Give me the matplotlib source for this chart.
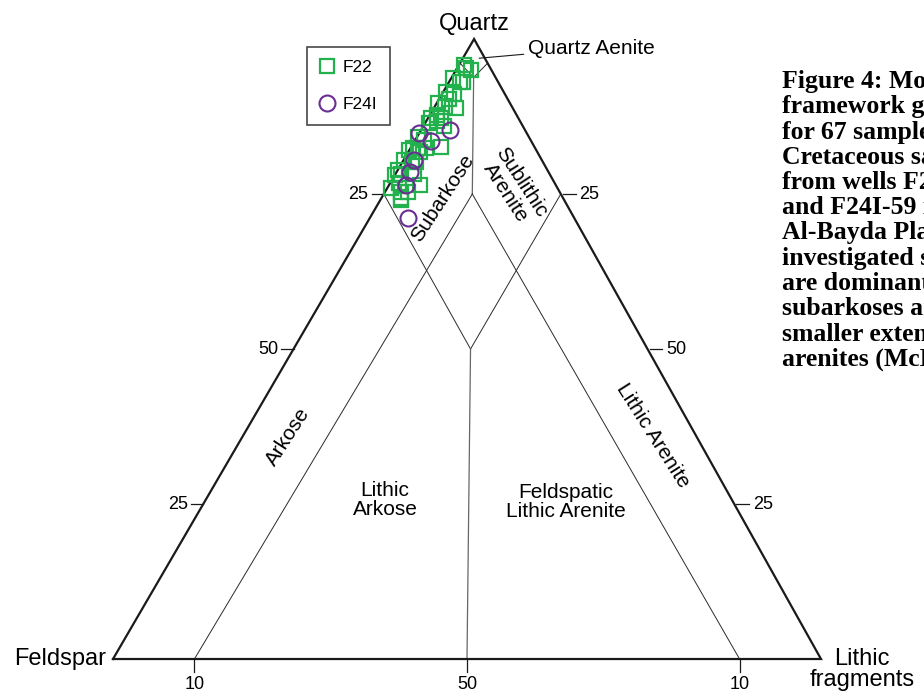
import matplotlib
matplotlib.use("Agg")
import matplotlib.pyplot as plt
import numpy as np

plt.rcParams['font.family'] = ['Liberation Sans', 'DejaVu Sans']

# framework composition in %: quartz (Q) and lithic fragments (L),
# feldspar is the remainder
f22_q = [95.8, 95.3, 95.0, 93.7, 93.1, 93.0, 91.5, 91.2, 90.4, 89.6, 89.1, 88.8,
         87.7, 87.2, 87.2, 86.7, 86.5, 85.9, 84.2, 83.7, 82.6, 82.4, 82.4, 82.4,
         82.1, 81.8, 80.5, 80.2, 80.2, 78.9, 78.3, 78.3, 78.1, 76.7, 76.5, 75.9,
         75.4, 75.4, 74.3, 74.0]
f22_l = [0.7, 1.3, 2.1, 0.3, 1.5, 2.0, 0.4, 1.7, 1.4, 0.2, 1.4, 3.2,
         1.1, 0.4, 1.9, 1.5, 0.5, 3.0, 0.1, 1.3, 4.2, 0.4, 2.2, 1.0,
         0.0, 1.6, 0.1, 1.4, 1.9, 0.0, 2.6, 0.7, 0.0, 1.3, 4.3, 0.6,
         3.2, 2.2, 2.8, 2.9]

f24i_q = [85.3, 84.8, 83.5, 80.5, 78.6, 76.5, 71.1]
f24i_l = [4.1, 0.0, 2.4, 1.5, 1.8, 2.4, 5.4]

side_ticks = [75, 50, 25]
side_labels = ['25', '50', '25']
base_ticks = [11.5, 50, 88.5]
base_labels = ['10', '50', '10']

# field boundaries, each as a chain of (Q, L) points
fields = [
    [(96.1, 0.0), (93.8, 3.1), (96.1, 3.9)],
    [(93.8, 3.1), (75.0, 12.5)],
    [(75.0, 0.0), (50.0, 25.0)],
    [(75.0, 25.0), (50.0, 25.0)],
    [(75.0, 12.5), (0.0, 11.5)],
    [(75.0, 12.5), (0.0, 88.5)],
    [(50.0, 25.0), (0.0, 50.0)],
]

APEX = 0.51  # where the quartz pole sits above the F-L base
GREEN = '#22b14c'
PURPLE = '#6a2d91'
INK = '#1a1a1a'


def tern(q, l):
    q = np.asarray(q, float) / 100.0
    l = np.asarray(l, float) / 100.0
    return l + APEX * q, q


fig = plt.figure(figsize=(9.24, 6.92), dpi=100)
ax = fig.add_axes([0, 0, 1, 1])
ax.set_xlim(-0.1596, 1.1455)
ax.set_ylim(-0.0532, 1.0629)
ax.axis('off')

# outline
ox, oy = tern([0, 0, 100, 0], [0, 100, 0, 0])
ax.plot(ox, oy, color=INK, lw=1.6, solid_joinstyle='miter', zorder=3)

for chain in fields:
    q, l = zip(*chain)
    fx, fy = tern(q, l)
    vertical = abs(fx[0] - fx[-1]) < 0.02 and len(chain) == 2
    ax.plot(fx, fy, color='#666666' if vertical else '#2a2a2a',
            lw=0.9 if vertical else 0.7, zorder=2)

# side ticks
for q, lab in zip(side_ticks, side_labels):
    x0, y0 = tern(q, 0)
    ax.plot([x0 - 0.017, x0], [y0, y0], color=INK, lw=0.9)
    ax.text(x0 - 0.022, y0, lab, fontsize=13, ha='right', va='center')
    x1, y1 = tern(q, 100 - q)
    ax.plot([x1 + 0.003, x1 + 0.021], [y1, y1], color=INK, lw=0.9)
    ax.text(x1 + 0.026, y1, lab, fontsize=13, ha='left', va='center')

for l, lab in zip(base_ticks, base_labels):
    bx, by = tern(0, l)
    ax.plot([bx, bx], [0, -0.021], color=INK, lw=0.9)
    ax.text(bx, -0.0485, lab, fontsize=13, ha='center', va='baseline')

# samples
x, y = tern(f22_q, f22_l)
ax.plot(x, y, 's', ms=10.5, mfc='none', mec=GREEN, mew=1.6, ls='none',
        label='F22', zorder=4)
x, y = tern(f24i_q, f24i_l)
ax.plot(x, y, 'o', ms=11.5, mfc='none', mec=PURPLE, mew=1.5, ls='none',
        label='F24I', zorder=5)

# pole names
qx, qy = tern(100, 0)
ax.text(qx, qy + 0.014, 'Quartz', fontsize=17, ha='center', va='baseline')
ax.text(-0.010, 0.0, 'Feldspar', fontsize=17, ha='right', va='center')
ax.text(1.058, 0.018, 'Lithic\nfragments', fontsize=17, ha='center', va='top',
        linespacing=0.95)

# field names
regions = [
    ('Subarkose', 74.4, 8.6, 57),
    ('Sublithic\nArenite', 76.0, 17.8, -57),
    ('Arkose', 35.8, 6.5, 57),
    ('Lithic\nArkose', 25.7, 25.3, 0),
    ('Feldspatic\nLithic Arenite', 25.3, 51.1, 0),
    ('Lithic Arenite', 36.1, 57.9, -57.5),
]
for name, q, l, rot in regions:
    rx, ry = tern(q, l)
    ax.text(rx, ry, name, fontsize=15, ha='center', va='center', rotation=rot,
            rotation_mode='anchor', linespacing=1.0)

ax.annotate('Quartz Aenite', xy=tern(96.9, 2.3), xytext=(0.586, 0.985),
            fontsize=15, ha='left', va='center',
            arrowprops=dict(arrowstyle='-', lw=0.8, color=INK,
                            shrinkA=1, shrinkB=0))

leg = ax.legend(loc='upper left', bbox_to_anchor=(307 / 924, 1 - 47 / 692),
                fontsize=12.5, frameon=True, fancybox=False, edgecolor=INK,
                borderpad=0.75, handlelength=0.8, handletextpad=0.5,
                labelspacing=1.25, borderaxespad=0)
leg.get_frame().set_linewidth(1.2)

caption = [
    'Figure 4: Modal',
    'framework grain',
    'for 67 samples',
    'Cretaceous sandstones',
    'from wells F22-59',
    'and F24I-59 in the',
    'Al-Bayda Platform.',
    'investigated samples',
    'are dominantly',
    'subarkoses and to a',
    'smaller extent, sublithic',
    'arenites (McBride, 1963).',
]
fig.text(782 / 924, 1 - 70 / 692, '\n'.join(caption), family='Liberation Serif',
         weight='bold', fontsize=18.5, ha='left', va='top', linespacing=1.125)

fig.savefig('out.png', dpi=100)
